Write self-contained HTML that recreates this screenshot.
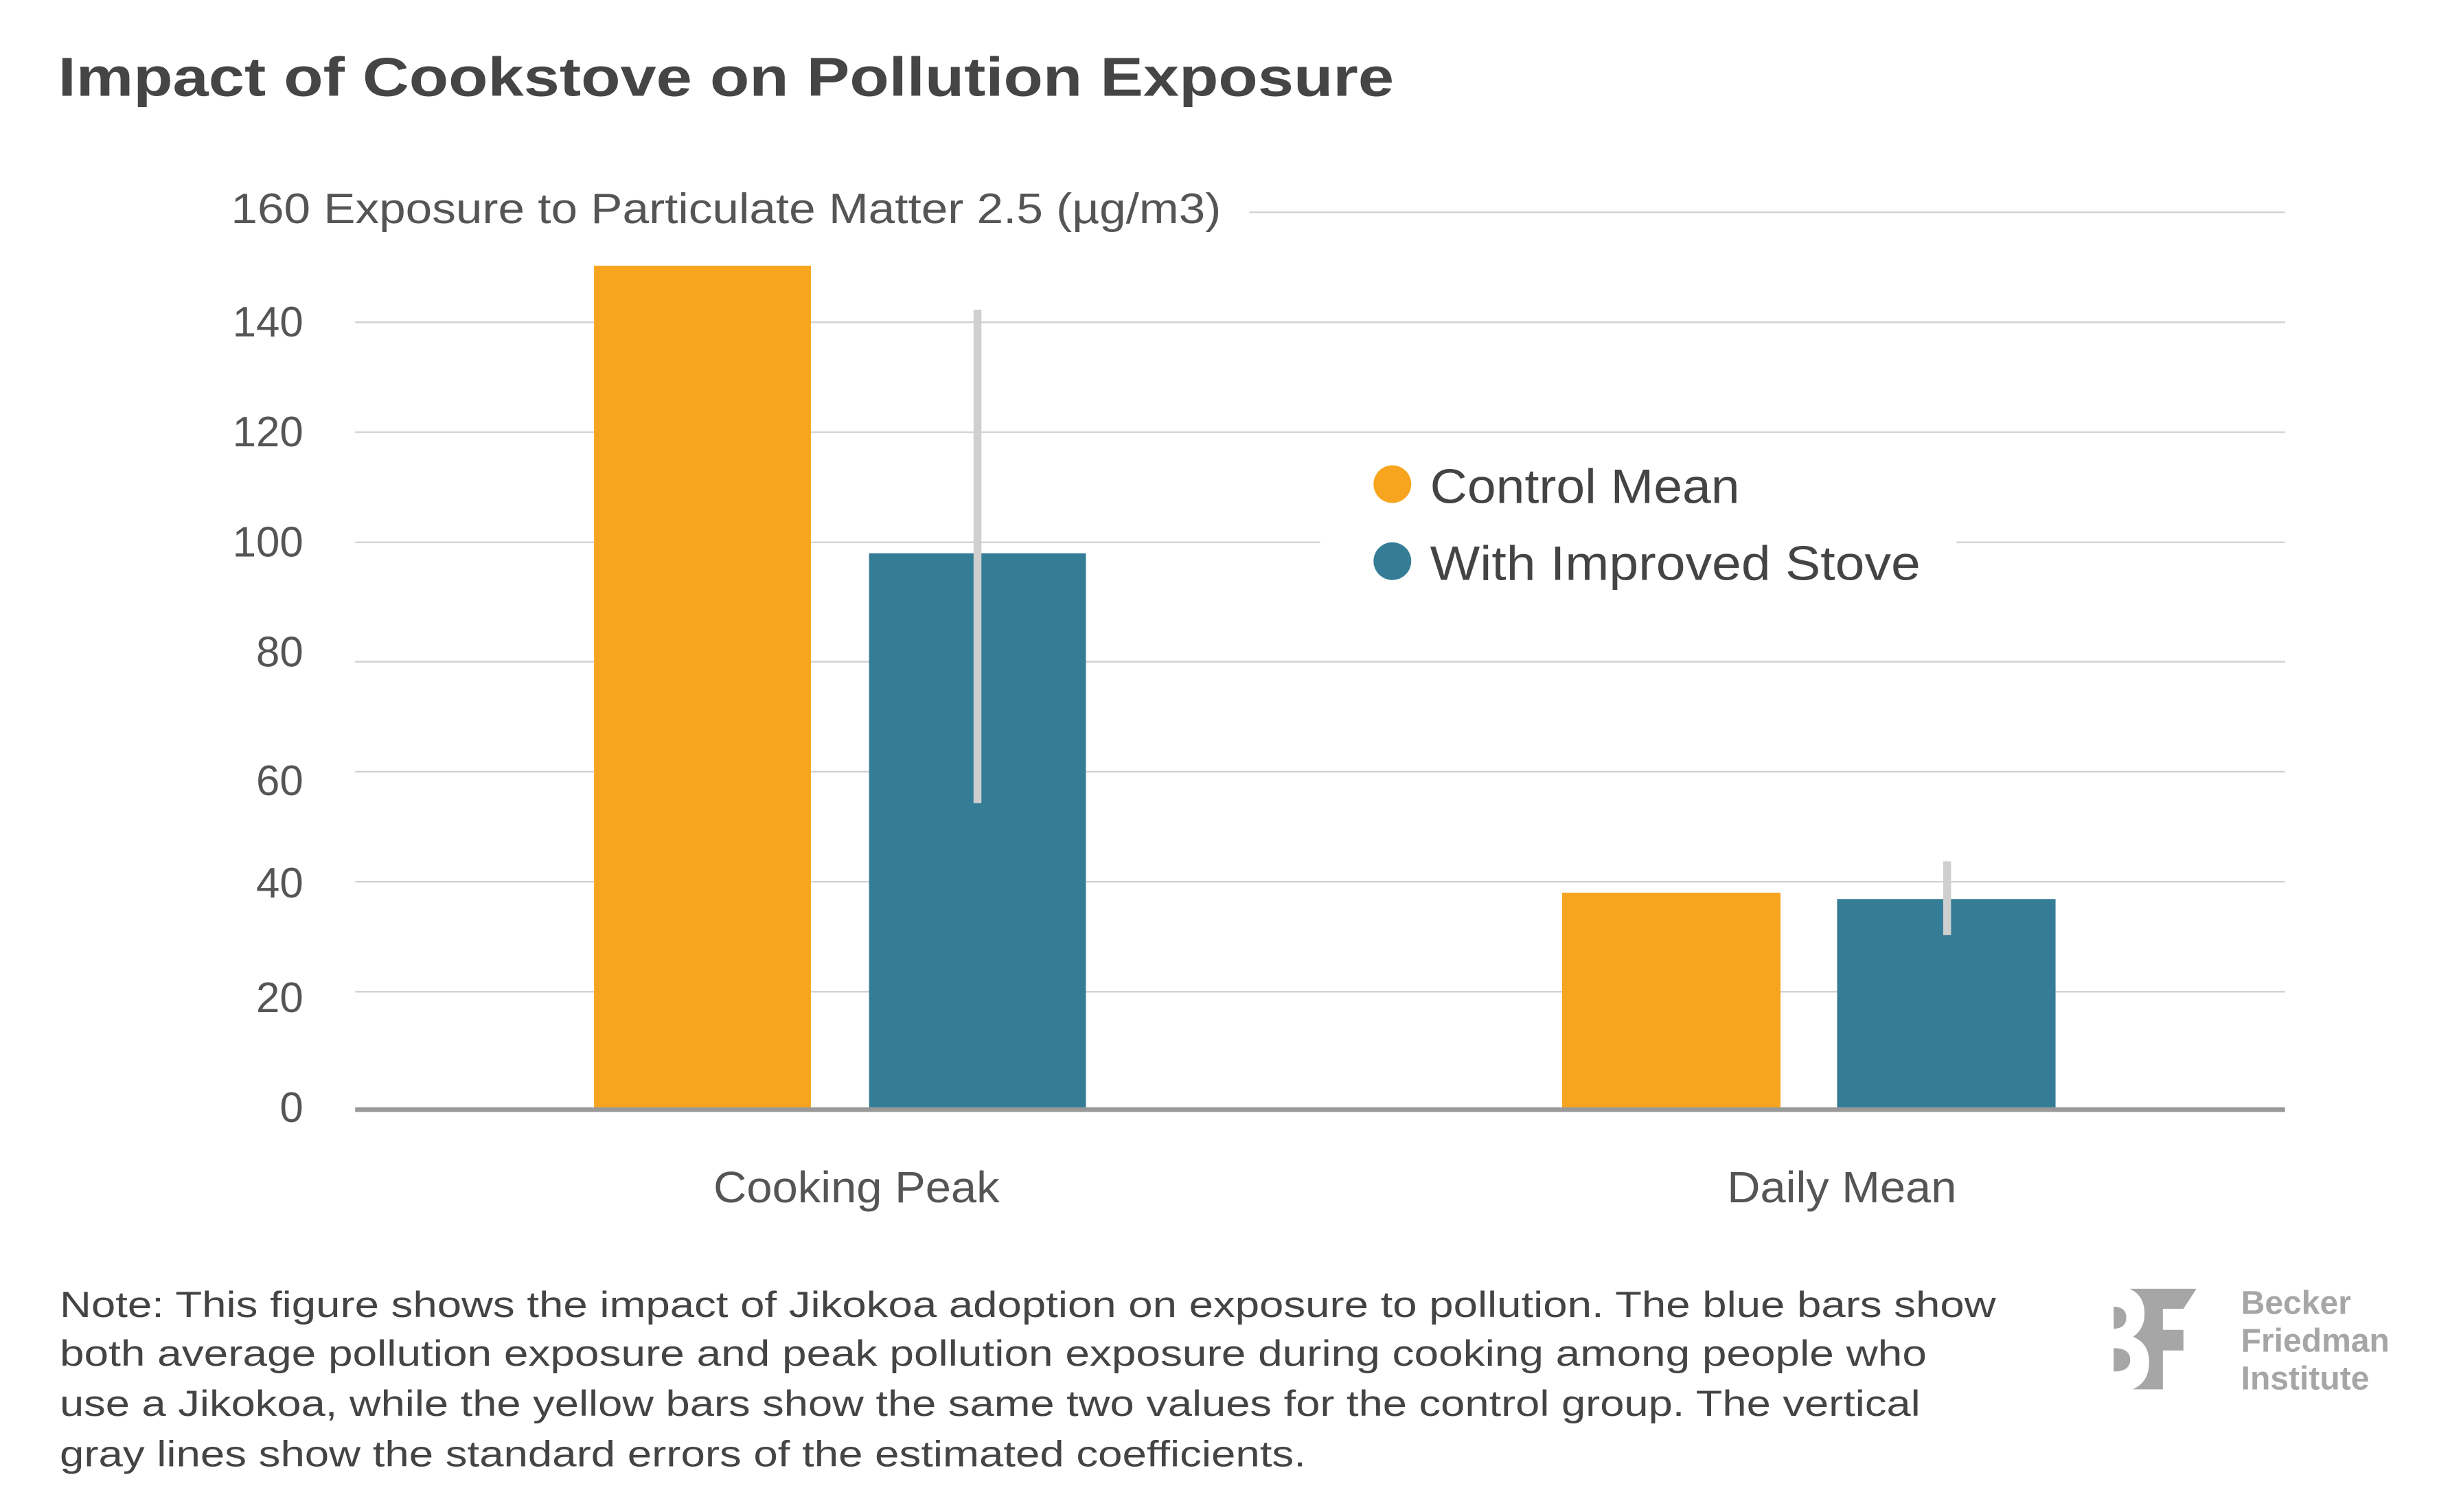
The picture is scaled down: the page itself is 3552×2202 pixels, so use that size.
<!DOCTYPE html>
<html><head><meta charset="utf-8"><style>
html,body{margin:0;padding:0;background:#fff}
svg{display:block}
</style></head><body>
<svg width="3552" height="2202" viewBox="0 0 1552 962" xmlns="http://www.w3.org/2000/svg" font-family="Liberation Sans, sans-serif">
<rect width="1552" height="962" fill="#fff"/>
<text x="37" y="61" font-size="35" font-weight="bold" fill="#454545" textLength="850" lengthAdjust="spacingAndGlyphs">Impact of Cookstove on Pollution Exposure</text>
<g stroke="#d0d0d0" stroke-width="1">
<line x1="795" y1="135" x2="1454" y2="135"/>
<line x1="226" y1="205" x2="1454" y2="205"/>
<line x1="226" y1="275" x2="1454" y2="275"/>
<line x1="226" y1="345" x2="840" y2="345"/>
<line x1="1245" y1="345" x2="1454" y2="345"/>
<line x1="226" y1="421" x2="1454" y2="421"/>
<line x1="226" y1="491" x2="1454" y2="491"/>
<line x1="226" y1="561" x2="1454" y2="561"/>
<line x1="226" y1="631" x2="1454" y2="631"/>
</g>
<g font-size="27" fill="#555" text-anchor="end">
<text x="193" y="214">140</text>
<text x="193" y="284">120</text>
<text x="193" y="354">100</text>
<text x="193" y="424">80</text>
<text x="193" y="506">60</text>
<text x="193" y="571">40</text>
<text x="193" y="644">20</text>
<text x="193" y="714">0</text>
</g>
<text x="147" y="142" font-size="27" fill="#555" textLength="630" lengthAdjust="spacingAndGlyphs">160 Exposure to Particulate Matter 2.5 (µg/m3)</text>
<rect x="378" y="169" width="138" height="537" fill="#F7A51E"/>
<rect x="553" y="352" width="138" height="354" fill="#357D96"/>
<rect x="994" y="568" width="139" height="138" fill="#F7A51E"/>
<rect x="1169" y="572" width="139" height="134" fill="#357D96"/>
<line x1="622" y1="197" x2="622" y2="511" stroke="#cfcfcf" stroke-width="5"/>
<line x1="1239" y1="548" x2="1239" y2="595" stroke="#cfcfcf" stroke-width="5"/>
<line x1="226" y1="706" x2="1454" y2="706" stroke="#999" stroke-width="3"/>
<circle cx="886" cy="308" r="12" fill="#F7A51E"/>
<circle cx="886" cy="357" r="12" fill="#357D96"/>
<text x="910" y="320" font-size="31" fill="#444" textLength="197" lengthAdjust="spacingAndGlyphs">Control Mean</text>
<text x="910" y="369" font-size="31" fill="#444" textLength="312" lengthAdjust="spacingAndGlyphs">With Improved Stove</text>
<text x="545" y="765" font-size="28" fill="#555" text-anchor="middle" textLength="182" lengthAdjust="spacingAndGlyphs">Cooking Peak</text>
<text x="1172" y="765" font-size="28" fill="#555" text-anchor="middle" textLength="146" lengthAdjust="spacingAndGlyphs">Daily Mean</text>
<g font-size="23" fill="#444">
<text x="38" y="838" textLength="1232" lengthAdjust="spacingAndGlyphs">Note: This figure shows the impact of Jikokoa adoption on exposure to pollution. The blue bars show</text>
<text x="38" y="869" textLength="1188" lengthAdjust="spacingAndGlyphs">both average pollution exposure and peak pollution exposure during cooking among people who</text>
<text x="38" y="901" textLength="1184" lengthAdjust="spacingAndGlyphs">use a Jikokoa, while the yellow bars show the same two values for the control group. The vertical</text>
<text x="38" y="933" textLength="793" lengthAdjust="spacingAndGlyphs">gray lines show the standard errors of the estimated coefficients.</text>
</g>
<g fill="#a6a6a6" transform="translate(1345,820) scale(0.1455) translate(-350,-170)">
<path d="M350,248 Q405,250 405,296 Q405,343 350,345 Z"/>
<path d="M350,430 Q422,430 422,481 Q422,532 350,532 Z"/>
<path d="M420,170 L712,170 L655,258 L565,258 L565,350 L655,350 L655,440 L565,440 L565,610 L432,610 Q505,580 505,490 Q505,410 435,380 Q485,345 485,280 Q485,200 420,170 Z"/>
</g>
<g font-size="21" font-weight="bold" fill="#a6a6a6">
<text x="1426" y="836">Becker</text>
<text x="1426" y="860">Friedman</text>
<text x="1426" y="884">Institute</text>
</g>
</svg>
</body></html>
